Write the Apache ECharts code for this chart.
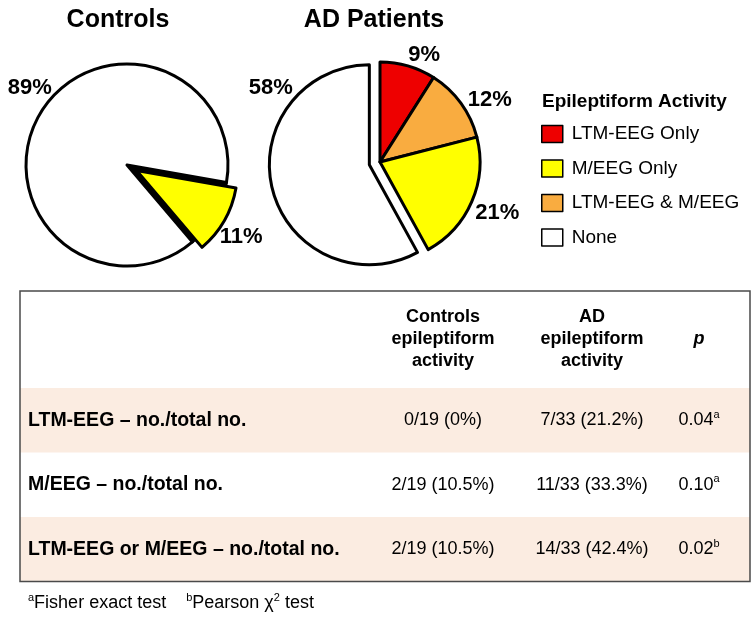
<!DOCTYPE html>
<html><head><meta charset="utf-8">
<script src="https://cdn.jsdelivr.net/npm/echarts@6/dist/echarts.min.js"></script>
<style>html,body{margin:0;padding:0;background:#fff}#c{width:754px;height:618px}</style>
</head><body><div id="c"></div>
<script>
// ---------- data ----------
const categories = ['LTM-EEG Only', 'M/EEG Only', 'LTM-EEG & M/EEG', 'None'];
const controlsNames = ['M/EEG Only', 'None'];
const controlsValues = [11, 89];
const adNames = ['LTM-EEG Only', 'LTM-EEG & M/EEG', 'M/EEG Only', 'None'];
const adValues = [9, 12, 21, 58];
const controlsExploded = 'M/EEG Only';
const adExploded = 'None';
const pieTitles = ['Controls', 'AD Patients'];
const legendTitle = 'Epileptiform Activity';
const tableHeaders = ['Controls\nepileptiform\nactivity', 'AD\nepileptiform\nactivity', 'p'];
const tableRowLabels = ['LTM-EEG – no./total no.', 'M/EEG – no./total no.', 'LTM-EEG or M/EEG – no./total no.'];
const controlsCounts = ['0/19 (0%)', '2/19 (10.5%)', '2/19 (10.5%)'];
const adCounts = ['7/33 (21.2%)', '11/33 (33.3%)', '14/33 (42.4%)'];
const pValues = ['0.04', '0.10', '0.02'];
const pTests = ['a', 'a', 'b'];
const footnoteA = 'Fisher exact test';
const footnoteB = 'Pearson χ';

// ---------- styles / layout ----------
const FONT = '"Liberation Sans", Arial, Helvetica, sans-serif';
const colorMap = {
  'LTM-EEG Only': '#EE0000',
  'M/EEG Only': '#FFFF00',
  'LTM-EEG & M/EEG': '#F9AC40',
  'None': '#FFFFFF'
};
const controlsLayout = { center: [127, 165], radius: 101, startAngle: 350,
  labelAngles: [-32.3, 141.6], labelDist: [135, 124], darkGap: true };
const adLayout = { center: [380, 162], radius: 100, startAngle: 90,
  labelAngles: [67.6, 29.4, -23.6, 145.8], labelDist: [116, 126, 128, 132], darkGap: false };

function pieSeries(name, names, values, exploded, lay) {
  return {
    type: 'pie', name: name, z: 2,
    center: lay.center, radius: lay.radius,
    startAngle: lay.startAngle, clockwise: true,
    selectedMode: 'single', selectedOffset: 11,
    avoidLabelOverlap: false,
    emphasis: { disabled: true },
    animation: false,
    itemStyle: { borderColor: '#000', borderWidth: 3 },
    label: { show: false },
    labelLine: { show: false },
    data: names.map((n, i) => ({ name: n, value: values[i], selected: n === exploded, itemStyle: { color: colorMap[n] } }))
  };
}
// dark wedge left behind an exploded slice (drawn underneath)
function gapSeries(name, names, values, exploded, lay) {
  return {
    type: 'pie', name: name + ' gap', z: 1, silent: true,
    center: lay.center, radius: lay.radius,
    startAngle: lay.startAngle, clockwise: true,
    selectedMode: false, avoidLabelOverlap: false,
    emphasis: { disabled: true }, animation: false,
    label: { show: false }, labelLine: { show: false },
    data: names.map((n, i) => ({ name: n, value: values[i],
      itemStyle: n === exploded ? { color: '#000', borderColor: '#000', borderWidth: 3 } : { color: 'rgba(0,0,0,0)', borderWidth: 0 } }))
  };
}
// label-only companion series (same data, invisible sectors) so labels can be placed freely
function labelSeries(name, names, values, lay) {
  return {
    type: 'pie', name: name + ' labels', z: 3,
    center: lay.center, radius: lay.radius,
    startAngle: lay.startAngle, clockwise: true,
    selectedMode: false, silent: true,
    avoidLabelOverlap: false,
    emphasis: { disabled: true },
    animation: false,
    itemStyle: { color: 'rgba(0,0,0,0)', borderWidth: 0 },
    label: { show: true, formatter: '{c}%', fontFamily: FONT, fontWeight: 'bold', fontSize: 22, color: '#000' },
    labelLine: { show: false },
    labelLayout: function (p) {
      const a = lay.labelAngles[p.dataIndex] * Math.PI / 180;
      const d = lay.labelDist[p.dataIndex];
      return { x: lay.center[0] + d * Math.cos(a), y: lay.center[1] - d * Math.sin(a), align: 'center', verticalAlign: 'middle' };
    },
    data: names.map((n, i) => ({ name: n, value: values[i] }))
  };
}

// ---------- table graphics ----------
const T = { left: 20, right: 750, top: 291, headerBottom: 388, rowH: 64.5, labelX: 28,
  colX: [443, 592, 699], fontSize: 18, labelFontSize: 19.5, pink: '#FBECE1' };
const g = [];
pieTitles.forEach((t, i) => g.push({ type: 'text', x: [118, 374][i], y: 20,
  style: { text: t, font: 'bold 25px ' + FONT, fill: '#000', textAlign: 'center', textVerticalAlign: 'middle' } }));
g.push({ type: 'text', x: 542, y: 102, style: { text: legendTitle, font: 'bold 19px ' + FONT, fill: '#000', textVerticalAlign: 'middle' } });

tableRowLabels.forEach((lab, r) => {
  const y0 = T.headerBottom + r * T.rowH;
  if (r % 2 === 0) g.push({ type: 'rect', shape: { x: T.left, y: y0, width: T.right - T.left, height: T.rowH }, style: { fill: T.pink } });
});
g.push({ type: 'rect', shape: { x: T.left, y: T.top, width: T.right - T.left, height: T.headerBottom + 3 * T.rowH - T.top },
  style: { fill: null, stroke: '#4a4a4a', lineWidth: 1.5 } });
tableHeaders.forEach((h, c) => g.push({ type: 'text', x: T.colX[c], y: (T.top + T.headerBottom) / 2,
  style: { text: h, font: (c === 2 ? 'italic ' : '') + 'bold ' + T.fontSize + 'px ' + FONT, lineHeight: 22, fill: '#000', textAlign: 'center', textVerticalAlign: 'middle' } }));
const rich = {
  n: { fontFamily: FONT, fontSize: T.fontSize, lineHeight: 22, color: '#000', verticalAlign: 'middle' },
  s: { fontFamily: FONT, fontSize: 11, lineHeight: 11, color: '#000', verticalAlign: 'top' }
};
tableRowLabels.forEach((lab, r) => {
  const yc = T.headerBottom + r * T.rowH + T.rowH / 2;
  g.push({ type: 'text', x: T.labelX, y: yc, style: { text: lab, font: 'bold ' + T.labelFontSize + 'px ' + FONT, fill: '#000', textVerticalAlign: 'middle' } });
  g.push({ type: 'text', x: T.colX[0], y: yc, style: { text: controlsCounts[r], font: T.fontSize + 'px ' + FONT, fill: '#000', textAlign: 'center', textVerticalAlign: 'middle' } });
  g.push({ type: 'text', x: T.colX[1], y: yc, style: { text: adCounts[r], font: T.fontSize + 'px ' + FONT, fill: '#000', textAlign: 'center', textVerticalAlign: 'middle' } });
  g.push({ type: 'text', x: T.colX[2], y: yc, style: { text: '{n|' + pValues[r] + '}{s|' + pTests[r] + '}', rich: rich, textAlign: 'center', textVerticalAlign: 'middle' } });
});
g.push({ type: 'text', x: T.labelX, y: 603, style: {
  text: '{s|a}{n|' + footnoteA + '}{n|    }{s|b}{n|' + footnoteB + '}{s|2}{n| test}', rich: rich, textVerticalAlign: 'middle' } });

const series = [
  pieSeries(pieTitles[0], controlsNames, controlsValues, controlsExploded, controlsLayout),
  pieSeries(pieTitles[1], adNames, adValues, adExploded, adLayout),
  labelSeries(pieTitles[0], controlsNames, controlsValues, controlsLayout),
  labelSeries(pieTitles[1], adNames, adValues, adLayout)
];
if (controlsLayout.darkGap) series.push(gapSeries(pieTitles[0], controlsNames, controlsValues, controlsExploded, controlsLayout));
if (adLayout.darkGap) series.push(gapSeries(pieTitles[1], adNames, adValues, adExploded, adLayout));

const chart = echarts.init(document.getElementById('c'), null, { renderer: 'canvas' });
chart.setOption({
  animation: false,
  backgroundColor: '#fff',
  legend: {
    orient: 'vertical', left: 541, top: 124.5, padding: 0, itemWidth: 21, itemHeight: 17, itemGap: 15.5,
    icon: 'rect', selectedMode: false, data: categories,
    itemStyle: { borderColor: '#000', borderWidth: 1.5 },
    textStyle: { fontFamily: FONT, fontSize: 19, color: '#000', lineHeight: 17, padding: [0, 0, 0, 4] }
  },
  series: series,
  graphic: { elements: g }
});
</script>
</body></html>
